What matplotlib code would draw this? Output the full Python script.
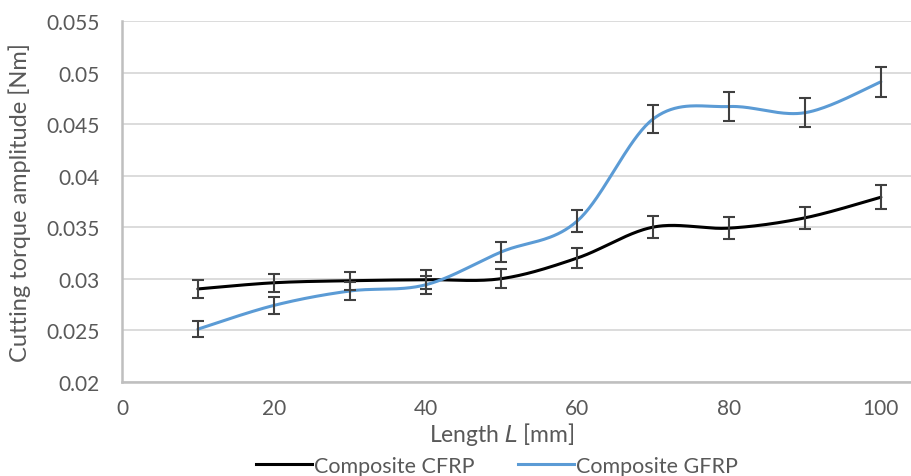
import numpy as np
import matplotlib
matplotlib.use("Agg")
import matplotlib.pyplot as plt
from matplotlib.lines import Line2D

# data
length_mm = [10, 20, 30, 40, 50, 60, 70, 80, 90, 100]
cfrp = [0.0290, 0.0296, 0.0298, 0.0299, 0.0300, 0.0320, 0.0350, 0.0349, 0.0359, 0.0379]
gfrp = [0.0251, 0.0274, 0.0288, 0.0294, 0.0326, 0.0356, 0.0455, 0.0467, 0.0461, 0.0491]
cfrp_err = [0.0009, 0.00088, 0.00089, 0.0009, 0.0009, 0.00096, 0.00105, 0.00105, 0.00108, 0.00114]
gfrp_err = [0.00075, 0.00082, 0.00086, 0.00088, 0.00098, 0.00107, 0.00137, 0.0014, 0.00138, 0.00147]

x_ticks = [0, 20, 40, 60, 80, 100]
y_ticks = [0.02, 0.025, 0.03, 0.035, 0.04, 0.045, 0.05, 0.055]
y_labels = ["0.02", "0.025", "0.03", "0.035", "0.04", "0.045", "0.05", "0.055"]

TEXT = "#595959"
plt.rcParams['font.family'] = ['Lato', 'DejaVu Sans']


def smooth(xs, ys, n=40):
    # Excel-like smoothed line: cubic bezier with catmull-rom tangents
    p = np.column_stack([xs, ys]).astype(float)
    p = np.vstack([p[0], p, p[-1]])
    out = []
    t = np.linspace(0, 1, n)[:, None]
    for i in range(1, len(p) - 2):
        p0, p1, p2, p3 = p[i - 1], p[i], p[i + 1], p[i + 2]
        c1 = p1 + (p2 - p0) / 6
        c2 = p2 - (p3 - p1) / 6
        seg = ((1 - t) ** 3) * p1 + 3 * ((1 - t) ** 2) * t * c1 + 3 * (1 - t) * t ** 2 * c2 + t ** 3 * p2
        out.append(seg if i == 1 else seg[1:])
    out = np.vstack(out)
    return out[:, 0], out[:, 1]


fig = plt.figure(figsize=(9.12, 4.77), dpi=100)
ax = fig.add_axes([0.1338, 0.1977, 0.8662, 0.7562])

sx, sy = smooth(length_mm, cfrp)
ax.plot(sx, sy, color="black", lw=2.2, solid_capstyle="round", zorder=3)
sx, sy = smooth(length_mm, gfrp)
ax.plot(sx, sy, color="#5B9BD5", lw=2.2, solid_capstyle="round", zorder=3)

for vals, err in [(cfrp, cfrp_err), (gfrp, gfrp_err)]:
    ax.errorbar(length_mm, vals, yerr=err, fmt="none", ecolor="#404040",
                elinewidth=1.5, capsize=4.3, capthick=1.5, zorder=4)

ax.set_xlim(0, 104.1)
ax.set_ylim(0.02, 0.055)
ax.set_xticks(x_ticks)
ax.set_yticks(y_ticks)
ax.set_yticklabels(y_labels)
ax.tick_params(length=0, labelsize=15, colors=TEXT)
ax.tick_params(axis="y", pad=16)
ax.tick_params(axis="x", pad=12)
ax.grid(axis="y", color="#D9D9D9", lw=1.3)
ax.set_axisbelow(True)
for s in ["top", "right"]:
    ax.spines[s].set_visible(False)
for s in ["left", "bottom"]:
    ax.spines[s].set_color("#BFBFBF")
    ax.spines[s].set_linewidth(1.8)

ax.set_ylabel("Cutting torque amplitude [Nm]", fontsize=17, color=TEXT)
ax.yaxis.set_label_coords(-0.115, 0.5)
ax.set_xlabel("Length $\\mathit{L}$ [mm]", fontsize=16.5, color=TEXT)
ax.xaxis.set_label_coords(50 / 104.1, -0.105)

handles = [Line2D([], [], color="black", lw=2.2), Line2D([], [], color="#5B9BD5", lw=2.2)]
fig.legend(handles, ["Composite CFRP", "Composite GFRP"], loc="center",
           bbox_to_anchor=(0.545, 0.021), ncol=2, frameon=False, fontsize=15.5,
           labelcolor=TEXT, handlelength=2.6, handletextpad=0.1, columnspacing=2.0)

fig.savefig("out.png", dpi=100)
